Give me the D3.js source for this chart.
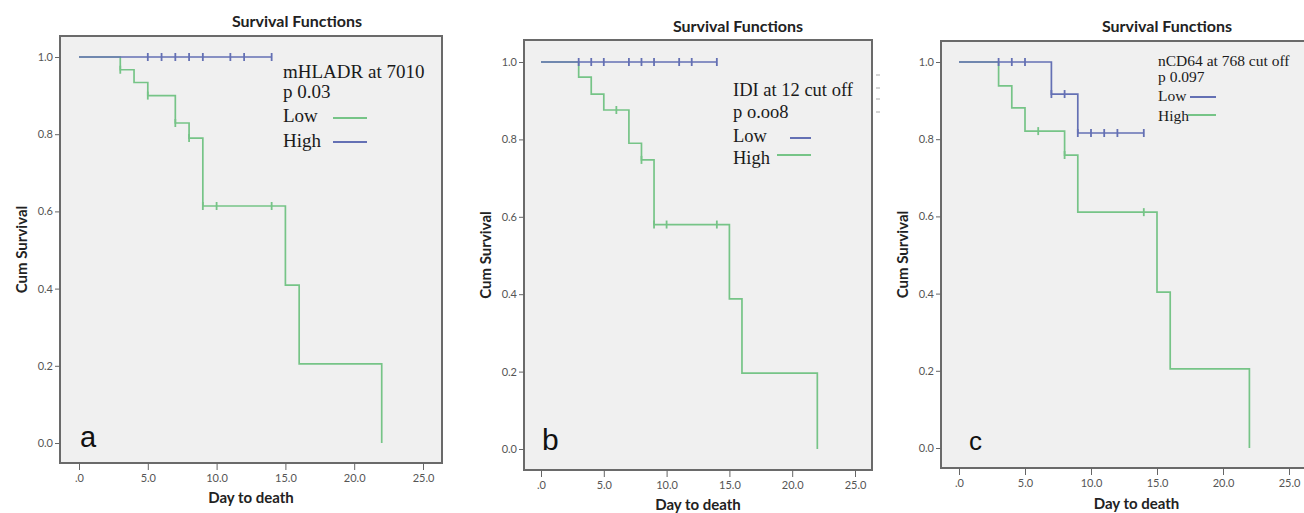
<!DOCTYPE html>
<html>
<head>
<meta charset="utf-8">
<script src="https://cdn.jsdelivr.net/npm/d3@7/dist/d3.min.js"></script>
<style>
  body { margin: 0; background: #fff; }
  svg { display: block; }
  .tick text { font-family: Lato, "DejaVu Sans", sans-serif; font-size: 11px; fill: #555; }
  .tick line { stroke: #666; }
  .legend { font-family: "Liberation Serif", "DejaVu Serif", serif; fill: #1a1a1a; }
</style>
</head>
<body>
<svg width="1304" height="513"></svg>
<script>
// shared axis ticks
var xTicks = [0, 5, 10, 15, 20, 25],
	xTickLabels = ['.0', '5.0', '10.0', '15.0', '20.0', '25.0'],
	yTicks = [0, 0.2, 0.4, 0.6, 0.8, 1.0],
	yTickLabels = ['0.0', '0.2', '0.4', '0.6', '0.8', '1.0']

// panel a - mHLADR
var aLowSteps = [[0, 1], [3, 0.967], [4, 0.934], [5, 0.90], [7, 0.829], [8, 0.79], [9, 0.614], [15, 0.409], [16, 0.205], [22, 0]],
	aLowCensor = [3, 5, 7, 8, 9, 10, 14],
	aHighSteps = [[0, 1], [14, 1]],
	aHighCensor = [5, 6, 7, 8, 9, 11, 12, 14]

// panel b - IDI
var bLowSteps = [[0, 1], [14, 1]],
	bLowCensor = [3, 4, 5, 7, 8, 9, 11, 12, 14],
	bHighSteps = [[0, 1], [3, 0.961], [4, 0.917], [5, 0.876], [7, 0.79], [8, 0.747], [9, 0.58], [15, 0.388], [16, 0.196], [22, 0]],
	bHighCensor = [6, 8, 9, 10, 14]

// panel c - nCD64
var cLowSteps = [[0, 1], [7, 0.917], [9, 0.816], [14, 0.816]],
	cLowCensor = [3, 4, 5, 7, 8, 9, 10, 11, 12, 14],
	cHighSteps = [[0, 1], [3, 0.938], [4, 0.881], [5, 0.821], [8, 0.759], [9, 0.611], [15, 0.404], [16, 0.205], [22, 0]],
	cHighCensor = [6, 8, 14]

var GREEN = '#76c487', BLUE = '#6470b4'

var panels = [
	{
		frame: [60, 36, 442, 463], x0: 79, x25: 423, y1: 57, y0: 443,
		title: [297, 27], ylab: 22, xlab: 503, letter: ['a', 80, 447, 29],
		series: [[aLowSteps, aLowCensor, GREEN], [aHighSteps, aHighCensor, BLUE]],
		legend: { x: 283, size: 19, lines: [['mHLADR at 7010', 78], ['p 0.03', 98], ['Low', 122], ['High', 147]],
			keys: [[GREEN, 333, 367, 118], [BLUE, 333, 367, 142]] },
		stubs: []
	},
	{
		frame: [524, 40, 872, 470], x0: 541, x25: 855, y1: 62, y0: 449,
		title: [738, 32], ylab: 486, xlab: 510, letter: ['b', 542, 450, 30],
		series: [[bHighSteps, bHighCensor, GREEN], [bLowSteps, bLowCensor, BLUE]],
		legend: { x: 733, size: 18.5, lines: [['IDI at 12 cut off', 96], ['p o.oo8', 118], ['Low', 142], ['High', 164]],
			keys: [[BLUE, 790, 811, 138], [GREEN, 777, 811, 155]] },
		stubs: [[876, 75], [876, 88], [876, 99], [876, 112]]
	},
	{
		frame: [941, 41, 1330, 468], x0: 959, x25: 1289, y1: 62, y0: 448,
		title: [1167, 32], ylab: 903, xlab: 509, letter: ['c', 969, 450, 26],
		series: [[cHighSteps, cHighCensor, GREEN], [cLowSteps, cLowCensor, BLUE]],
		legend: { x: 1158, size: 15.5, lines: [['nCD64 at 768 cut off', 66], ['p 0.097', 82], ['Low', 101], ['High', 121]],
			keys: [[BLUE, 1190, 1216, 97], [GREEN, 1188, 1216, 115]] },
		stubs: []
	}
]

var svg = d3.select('svg')
panels.forEach(drawPanel)

function surv(steps, t) {
	var s = steps[0][1]
	steps.forEach(function(d) { if(d[0] <= t) s = d[1] })
	return s
}

function drawPanel(p) {
	var g = svg.append('g'),
		f = p.frame,
		x = d3.scaleLinear().domain([0, 25]).range([p.x0, p.x25]),
		y = d3.scaleLinear().domain([0, 1]).range([p.y0, p.y1])

	g.append('rect')
		.attr('x', f[0]).attr('y', f[1])
		.attr('width', f[2] - f[0]).attr('height', f[3] - f[1])
		.attr('fill', '#f0f0f0').attr('stroke', '#6a6a6a').attr('stroke-width', 2)

	var xAxis = d3.axisBottom(x).tickValues(xTicks).tickSize(7).tickPadding(4)
		.tickFormat(function(d, i) { return xTickLabels[i] })
	g.append('g').attr('transform', 'translate(0,' + f[3] + ')').call(xAxis)
		.call(function(a) { a.select('.domain').remove() })

	var yAxis = d3.axisLeft(y).tickValues(yTicks).tickSize(5).tickPadding(2)
		.tickFormat(function(d, i) { return yTickLabels[i] })
	g.append('g').attr('transform', 'translate(' + f[0] + ',0)').call(yAxis)
		.call(function(a) { a.select('.domain').remove() })

	var line = d3.line()
		.x(function(d) { return x(d[0]) })
		.y(function(d) { return y(d[1]) })
		.curve(d3.curveStepAfter)

	p.series.forEach(function(s) {
		g.append('path').datum(s[0])
			.attr('d', line).attr('fill', 'none')
			.attr('stroke', s[2]).attr('stroke-width', 1.7)
		g.selectAll(null).data(s[1]).enter().append('line')
			.attr('x1', function(d) { return x(d) }).attr('x2', function(d) { return x(d) })
			.attr('y1', function(d) { return y(surv(s[0], d)) - 4 })
			.attr('y2', function(d) { return y(surv(s[0], d)) + 4 })
			.attr('stroke', s[2]).attr('stroke-width', 1.8)
	})

	// stray legend stubs outside the frame
	p.stubs.forEach(function(s) {
		g.append('line').attr('x1', s[0]).attr('x2', s[0] + 4).attr('y1', s[1]).attr('y2', s[1])
			.attr('stroke', '#aaa').attr('stroke-width', 1)
	})

	g.append('text').text('Survival Functions')
		.attr('x', p.title[0]).attr('y', p.title[1]).attr('text-anchor', 'middle')
		.attr('font-family', 'Lato, sans-serif').attr('font-weight', 'bold').attr('font-size', 16).attr('fill', '#222')

	g.append('text').text('Day to death')
		.attr('x', (f[0] + Math.min(f[2], 1304)) / 2 + (f[2] > 1304 ? 14 : 0)).attr('y', p.xlab).attr('text-anchor', 'middle')
		.attr('font-family', 'Lato, sans-serif').attr('font-weight', 'bold').attr('font-size', 15).attr('fill', '#222')

	g.append('text').text('Cum Survival')
		.attr('transform', 'translate(' + p.ylab + ',' + (f[1] + f[3]) / 2 + ') rotate(-90)')
		.attr('text-anchor', 'middle').attr('dy', '0.35em')
		.attr('font-family', 'Lato, sans-serif').attr('font-weight', 'bold').attr('font-size', 15).attr('fill', '#222')

	g.append('text').text(p.letter[0])
		.attr('x', p.letter[1]).attr('y', p.letter[2])
		.attr('font-family', '"Liberation Sans", Arial, sans-serif').attr('font-size', p.letter[3]).attr('fill', '#111')

	var lg = g.append('g').attr('class', 'legend')
	p.legend.lines.forEach(function(l) {
		lg.append('text').text(l[0]).attr('x', p.legend.x).attr('y', l[1]).attr('font-size', p.legend.size)
	})
	p.legend.keys.forEach(function(k) {
		lg.append('line').attr('x1', k[1]).attr('x2', k[2]).attr('y1', k[3]).attr('y2', k[3])
			.attr('stroke', k[0]).attr('stroke-width', 2)
	})
}
</script>
</body>
</html>
